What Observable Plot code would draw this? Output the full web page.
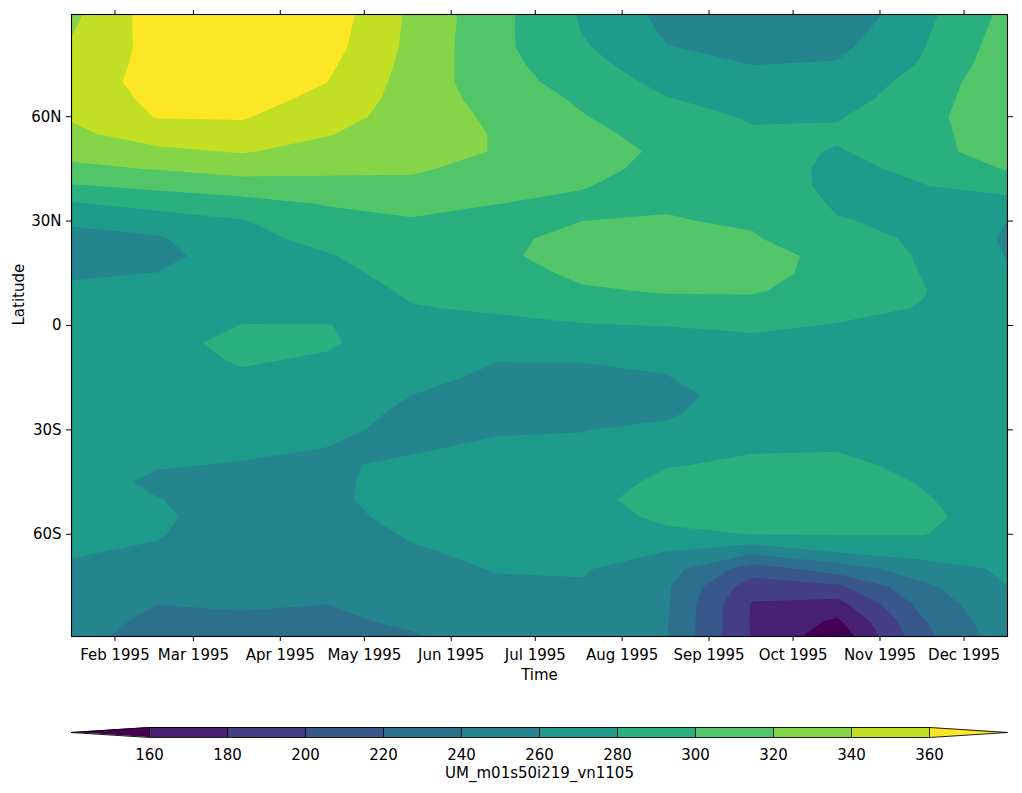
<!DOCTYPE html>
<html>
<head>
<meta charset="utf-8">
<script src="https://cdn.jsdelivr.net/npm/d3@7"></script>
<script src="https://cdn.jsdelivr.net/npm/@observablehq/plot@0.6"></script>
<style>
  html, body { margin: 0; padding: 0; background: #ffffff; }
  #chart svg { display: block; }
</style>
</head>
<body>
<div id="chart"></div>
<script>
// ---- Data: monthly means at mid-month; each month lists values from 90N to 90S every 5 degrees ----
const sampleTimes = ["1995-01-16T12:00Z", "1995-02-15T00:00Z", "1995-03-16T12:00Z", "1995-04-16T00:00Z",
                     "1995-05-16T12:00Z", "1995-06-16T00:00Z", "1995-07-16T12:00Z", "1995-08-16T12:00Z",
                     "1995-09-16T00:00Z", "1995-10-16T12:00Z", "1995-11-16T00:00Z", "1995-12-16T12:00Z"];
const lats = [90, 85, 80, 75, 70, 65, 60, 55, 50, 45, 40, 35, 30, 25, 20, 15, 10, 5, 0,
              -5, -10, -15, -20, -25, -30, -35, -40, -45, -50, -55, -60, -65, -70, -75, -80, -85, -90];

const jan = [335, 338.6, 341.8, 344.9, 348, 344.9, 341.8, 336.2, 326.8, 315.3, 298, 278.1, 262.5, 254.9, 251.3, 257.8, 263.2, 268, 269.3,
             270.7, 272, 271, 270, 269, 268, 267.5, 267, 266.5, 266, 265, 264, 261.3, 257.9, 254, 250, 248, 246];
const feb = [370, 368.5, 367, 367.5, 368, 365, 361, 348.8, 335.8, 320.9, 304.1, 286.7, 270, 257.7, 254.3, 260.3, 264, 268, 271,
             275, 273, 269, 268, 267, 266, 263.7, 261, 257.5, 260.5, 262.6, 261.3, 257.9, 252, 246.1, 240.2, 236, 232];
const mar = [378, 379, 380, 378, 376, 368.9, 361.8, 352.1, 341.5, 327.2, 310.5, 292.6, 278.8, 274.5, 270, 271, 272, 275.8, 280.4,
             284.3, 281.6, 277.6, 274, 270.1, 266.3, 262.6, 259.3, 257, 254.8, 252.5, 250.3, 248, 245.8, 243.5, 241.3, 238, 234];
const apr = [372, 370, 368, 364, 360.2, 353.9, 347.5, 341.1, 332.9, 324.2, 313.6, 301.2, 293, 285.3, 278.6, 274.3, 270, 275.3, 280.4,
             282, 278, 274, 270, 266.7, 263.3, 260, 258.8, 257.5, 256.3, 255, 252, 249, 246, 243, 240.1, 237, 234];
const may = [336, 335.5, 335, 333.5, 332, 332, 332, 330, 328, 322.6, 315, 305.5, 298.4, 294.5, 290.5, 286.7, 282.8, 279, 275,
             271, 267, 263.5, 260, 257, 256, 258.8, 261.7, 264.8, 268, 264.8, 261.6, 258.4, 255.2, 252, 247.2, 242.5, 238];
const jun = [306, 305.5, 305, 306.5, 308, 312, 316, 318.7, 319, 312.8, 306.5, 300.1, 297, 296.5, 296, 291.5, 287, 282.2, 275.8,
             268, 260.3, 257.5, 255, 257, 259, 261.7, 265, 266, 267, 266.5, 266, 263.4, 260.8, 257.6, 254, 251, 248];
const jul = [278, 279.3, 282.3, 287.3, 292.3, 297.3, 301.1, 303.6, 306, 303.2, 300.5, 298.2, 300, 304.5, 309, 303.9, 297.9, 288.3, 278.7,
             269.5, 260.4, 257.5, 255, 257.3, 259.6, 262.7, 266, 269.5, 273, 270.5, 268, 264.9, 261.8, 258, 253, 250.5, 248];
const aug = [254, 257.1, 260.5, 267.3, 274.1, 281, 288, 295, 297.5, 296.8, 296, 298.4, 301.1, 304.6, 308, 304.7, 301.5, 293.2, 280.5,
             271.2, 262, 259.5, 254.9, 257.5, 263.3, 271, 278.8, 284.8, 290, 284.3, 275.8, 259.8, 247.8, 242.6, 241.6, 241, 240.5];
const sep = [248, 251.9, 255.9, 259.8, 265.9, 272, 278, 282.4, 286, 289, 292, 295, 297.9, 301.7, 307.6, 306.9, 301.8, 293.4, 283.1,
             275.9, 270, 269, 268, 270, 272, 278.2, 283, 287.4, 288.4, 284.4, 280.3, 244.8, 210.3, 189.4, 178.5, 178, 178.5];
const oct = [244, 249.8, 255.5, 261.3, 267.1, 272.9, 278.8, 282.4, 278.7, 276, 275, 277.7, 281.2, 287.6, 294, 293, 292, 285, 279.1,
             276.1, 273, 271.5, 270, 272, 274, 278.8, 283.4, 288.2, 289.4, 285.7, 281.2, 261.1, 229, 196.4, 173.2, 156.5, 145];
const nov = [274, 276.5, 279, 281.6, 287, 289.5, 292, 290.5, 289, 283.4, 279.3, 277.7, 276, 277, 278, 279.4, 281, 279.2, 277,
             275.5, 274, 273, 272, 272.5, 273, 274.5, 276, 278.9, 281.7, 283.5, 280.7, 268.1, 250.6, 235.8, 226.3, 218.2, 213];
const dec = [305, 307.5, 310, 312.5, 315, 316.5, 318, 316.5, 315, 301.4, 287.3, 273.3, 259.9, 257.5, 259.3, 261.2, 264, 265, 266,
             266.5, 267, 266.5, 266, 265.5, 265, 265, 265, 267.3, 269.7, 272, 269, 266, 263, 260, 257, 254.5, 252];

const levels = [160, 180, 200, 220, 240, 260, 280, 300, 320, 340, 360];
const monthTicks = ["1995-02-01", "1995-03-01", "1995-04-01", "1995-05-01", "1995-06-01", "1995-07-01",
                    "1995-08-01", "1995-09-01", "1995-10-01", "1995-11-01", "1995-12-01"];
const latTicks = [60, 30, 0, -30, -60];
const latExtent = [-89.375, 89.375];
const xLabel = "Time";
const yLabel = "Latitude";
const colorbarLabel = "UM_m01s50i219_vn1105";

// ---- Build the grid for the contour mark ----
const series = [jan, feb, mar, apr, may, jun, jul, aug, sep, oct, nov, dec];
const times = sampleTimes.map(d => new Date(d));
const nx = times.length, ny = lats.length;
const grid = [];
for (let r = 0; r < ny; r++) for (let c = 0; c < nx; c++) grid.push(series[c][r]);
const dt = (times[nx - 1] - times[0]) / (nx - 1);
const dlat = (lats[0] - lats[ny - 1]) / (ny - 1);
const colors = d3.range(levels.length + 1).map(i => d3.interpolateViridis(i / levels.length));
const tickDates = monthTicks.map(d => new Date(d + "T00:00Z"));

const latFmt = d => d === 0 ? "0" : d > 0 ? `${d}N` : `${-d}S`;
const font = {fontFamily: '"DejaVu Sans", sans-serif', fontSize: "15px", color: "black", background: "white", overflow: "visible"};

const main = Plot.plot({
  width: 1022, height: 700,
  marginLeft: 71, marginRight: 15, marginTop: 14, marginBottom: 64,
  style: font,
  x: {type: "utc", domain: [times[0], times[nx - 1]]},
  y: {type: "linear", domain: latExtent},
  color: {type: "threshold", domain: levels, range: colors},
  marks: [
    Plot.frame({fill: colors[0]}),
    Plot.contour(grid, {
      width: nx, height: ny,
      x1: new Date(+times[0] - dt / 2), x2: new Date(+times[nx - 1] + dt / 2),
      y1: lats[0] + dlat / 2, y2: lats[ny - 1] - dlat / 2,
      fill: Plot.identity,
      thresholds: levels,
      clip: true
    }),
    Plot.axisX({anchor: "bottom", ticks: tickDates, tickFormat: d3.utcFormat("%b %Y"), tickSize: 5, tickPadding: 7.6, label: null}),
    Plot.axisX({anchor: "top", ticks: tickDates, tickFormat: () => "", tickSize: 5, label: null}),
    Plot.axisY({anchor: "left", ticks: latTicks, tickFormat: latFmt, tickSize: 5, tickPadding: 5, label: null}),
    Plot.axisY({anchor: "right", ticks: latTicks, tickFormat: () => "", tickSize: 5, label: null}),
    Plot.frame({stroke: "black", strokeWidth: 1.1}),
    Plot.text([xLabel], {text: d => d, frameAnchor: "bottom", lineAnchor: "middle", dy: 38.5, fill: "black"}),
    Plot.text([yLabel], {text: d => d, frameAnchor: "left", lineAnchor: "middle", dx: -52, rotate: -90, fill: "black"})
  ]
});

// ---- Colorbar with extension triangles ----
const step = levels[1] - levels[0];
const lowTip = levels[0] - step, highTip = levels[levels.length - 1] + step;
const intervals = levels.slice(0, -1).map((v, i) => ({lo: v, hi: levels[i + 1], color: colors[i + 1]}));
const lowTri = [{x: lowTip, a: 0.5, b: 0.5}, {x: levels[0], a: 0, b: 1}];
const highTri = [{x: levels[levels.length - 1], a: 0, b: 1}, {x: highTip, a: 0.5, b: 0.5}];
const outline = [[lowTip, 0.5], [levels[0], 1], [levels[levels.length - 1], 1], [highTip, 0.5],
                 [levels[levels.length - 1], 0], [levels[0], 0], [lowTip, 0.5]];

const bar = Plot.plot({
  width: 1022, height: 93,
  marginLeft: 71, marginRight: 15, marginTop: 27, marginBottom: 56,
  style: font,
  x: {type: "linear", domain: [lowTip, highTip]},
  y: {domain: [0, 1], axis: null},
  marks: [
    Plot.rect(intervals, {x1: "lo", x2: "hi", y1: 0, y2: 1, fill: "color"}),
    Plot.areaY(lowTri, {x: "x", y1: "a", y2: "b", fill: colors[0]}),
    Plot.areaY(highTri, {x: "x", y1: "a", y2: "b", fill: colors[colors.length - 1]}),
    Plot.ruleX(levels, {y1: 0, y2: 1, stroke: "black", strokeWidth: 0.8}),
    Plot.line(outline, {x: d => d[0], y: d => d[1], stroke: "black", strokeWidth: 0.9}),
    Plot.axisX({ticks: levels, tickSize: 0, tickPadding: 11.6, tickFormat: d => String(d), label: null}),
    Plot.text([colorbarLabel], {text: d => d, frameAnchor: "bottom", lineAnchor: "middle", dy: 35.9, fill: "black"})
  ]
});

const root = document.getElementById("chart");
root.appendChild(main);
root.appendChild(bar);
</script>
</body>
</html>
